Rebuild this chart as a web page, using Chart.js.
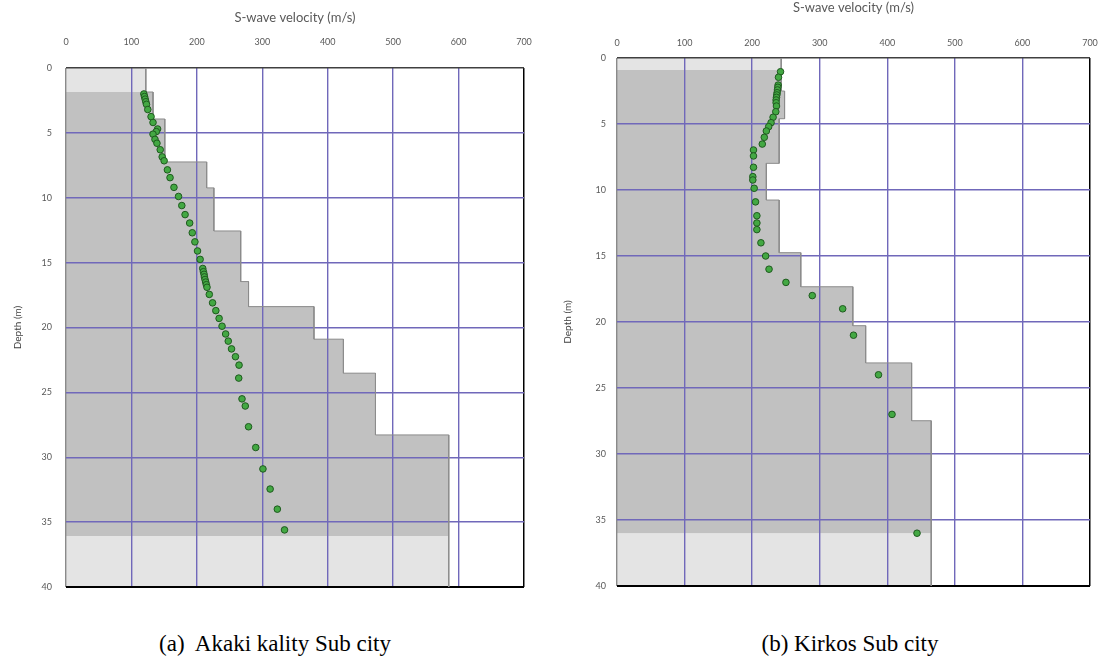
<!DOCTYPE html>
<html>
<head>
<meta charset="utf-8">
<script src="https://cdn.jsdelivr.net/npm/chart.js@4.4.1/dist/chart.umd.min.js"></script>
<style>
  body { margin: 0; background: #fff; width: 1107px; height: 667px; position: relative; overflow: hidden; }
  canvas { position: absolute; top: 0; }
  #chartA { left: 0; }
  #chartB { left: 553px; }
  .cap { position: absolute; top: 631px; font-family: "Liberation Serif", "Times New Roman", serif; font-size: 23px; white-space: pre; transform: translateX(-50%); color: #000; }
</style>
</head>
<body>
<canvas id="chartA" width="545" height="600"></canvas>
<canvas id="chartB" width="554" height="600"></canvas>
<div class="cap" style="left:275px">(a)  Akaki kality Sub city</div>
<div class="cap" style="left:850px">(b) Kirkos Sub city</div>

<script>
// Akaki kality - layered Vs model (layer top depth, velocity)
const layerTopsA = [0, 1.85, 3.93, 7.24, 9.24, 12.56, 16.46, 18.39, 20.9, 23.52, 28.28];
const layerVsA   = [122, 133, 151, 215, 226, 267, 279, 379, 424, 473, 585];
const rangeA     = [1.85, 36.06];   // depth range that was measured (dark fill)

// Akaki kality - measured points
const pointVsA = [119, 120, 121, 122, 123, 125, 130, 133, 140, 138, 133, 136, 139, 144, 147, 150, 155, 159,
                  165, 172, 177, 182, 189, 193, 197, 201, 205, 209, 210, 211, 211.5, 212.5, 213.5, 214.5, 215.5,
                  219, 224, 229, 234, 238.5, 244, 248, 253, 259, 264.5, 264, 269, 274, 279, 290, 301, 312, 323, 334];
const pointDepthA = [2.0, 2.2, 2.4, 2.6, 2.8, 3.2, 3.75, 4.2, 4.7, 4.9, 5.1, 5.5, 5.8, 6.3, 6.85, 7.15, 7.85, 8.45,
                     9.2, 9.9, 10.6, 11.3, 11.95, 12.7, 13.4, 14.1, 14.75, 15.45, 15.7, 15.9, 16.1, 16.3, 16.5, 16.7, 16.9,
                     17.45, 18.1, 18.7, 19.3, 19.9, 20.5, 21.05, 21.65, 22.25, 22.9, 23.9, 25.5, 26.05, 27.65, 29.25, 30.9, 32.45, 34.0, 35.6];

// Kirkos - layered Vs model
const layerTopsB = [0, 2.5, 4.6, 7.98, 10.76, 14.75, 17.33, 20.28, 23.1, 27.48];
const layerVsB   = [243, 248, 240, 221, 240, 272, 349, 368, 436, 465];
const rangeB     = [0.91, 36.0];

// Kirkos - measured points
const pointVsB = [242, 239, 238.5, 238, 237.5, 237, 236.5, 236, 235.5, 235.5, 236, 235, 231, 228, 224.5, 221, 218, 215,
                  202, 202, 202, 201, 201, 203, 205, 207, 207, 207, 213, 220, 225, 250, 289, 334, 350, 387, 407, 444];
const pointDepthB = [1.04, 1.46, 2.05, 2.22, 2.42, 2.63, 2.8, 2.98, 3.18, 3.39, 3.64, 4.07, 4.49, 4.9, 5.2, 5.53, 6.01, 6.52,
                     6.97, 7.42, 8.28, 8.99, 9.24, 9.87, 10.9, 11.95, 12.5, 13.0, 14.0, 15.0, 16.0, 17.0, 18.0, 19.0, 21.0, 24.0, 27.0, 36.0];

const maxDepth = 40;
const maxVs = 700;

// turn layer tops + velocities into a step outline, cut to [from, to]
function stepProfile(tops, vs, from, to) {
    const pts = [];
    for (let i = 0; i < vs.length; i++) {
        const a = Math.max(tops[i], from);
        const b = Math.min(i + 1 < tops.length ? tops[i + 1] : maxDepth, to);
        if (b <= a) continue;
        pts.push({ x: vs[i], y: a }, { x: vs[i], y: b });
    }
    return pts;
}

function drawProfile(id, p) {
    const gridBlue = 'rgb(112, 104, 186)';
    new Chart(document.getElementById(id), {
        type: 'line',
        data: {
            datasets: [
                {
                    label: 'Measured',
                    data: p.pv.map((v, i) => ({ x: v, y: p.pd[i] })),
                    showLine: false,
                    pointRadius: 3.3,
                    pointBackgroundColor: '#43a843',
                    pointBorderColor: '#1f5a1f',
                    pointBorderWidth: 1
                },
                {
                    label: 'Model (measured depth)',
                    data: stepProfile(p.tops, p.vs, p.range[0], p.range[1]),
                    borderWidth: 0,
                    pointRadius: 0,
                    fill: 'origin',
                    backgroundColor: '#c1c1c1'
                },
                {
                    label: 'Model',
                    data: stepProfile(p.tops, p.vs, 0, maxDepth),
                    borderColor: '#8c8c8c',
                    borderWidth: 1,
                    pointRadius: 0,
                    fill: 'origin',
                    backgroundColor: '#e4e4e4'
                }
            ]
        },
        options: {
            responsive: false,
            devicePixelRatio: 1,
            animation: false,
            indexAxis: 'y',
            layout: { padding: p.pad },
            plugins: {
                legend: { display: false },
                tooltip: { enabled: false },
                filler: { drawTime: 'beforeDraw' }
            },
            scales: {
                x: {
                    type: 'linear',
                    position: 'top',
                    min: 0,
                    max: maxVs,
                    ticks: { stepSize: 100, color: '#595959', font: { family: 'Lato', size: 9 }, padding: p.xTickPad },
                    grid: {
                        drawTicks: false,
                        color: c => c.tick.value === 0 ? '#8a8a8a' : c.tick.value === maxVs ? '#000' : gridBlue,
                        lineWidth: c => c.tick.value === maxVs ? 1.5 : 1.4
                    },
                    border: { display: false },
                    title: {
                        display: true,
                        text: 'S-wave velocity (m/s)',
                        color: '#595959',
                        font: { family: 'Lato', size: 13 },
                        padding: { top: p.xTitlePad, bottom: 0 }
                    },
                    afterFit: s => { s.height = p.xAxisH; s.paddingLeft = 0; s.paddingRight = 0; }
                },
                y: {
                    type: 'linear',
                    reverse: true,
                    min: 0,
                    max: maxDepth,
                    ticks: { stepSize: 5, color: '#595959', font: { family: 'Lato', size: 9 }, padding: p.yTickPad },
                    grid: {
                        drawTicks: false,
                        color: c => c.tick.value === 0 ? '#404040' : c.tick.value === maxDepth ? '#000' : gridBlue,
                        lineWidth: c => c.tick.value === maxDepth ? 2 : 1.4
                    },
                    border: { display: false },
                    title: {
                        display: true,
                        text: 'Depth (m)',
                        color: '#404040',
                        font: { family: 'Lato', size: 10 },
                        padding: { top: p.yTitlePad, bottom: 0 }
                    },
                    afterFit: s => { s.width = p.yAxisW; s.paddingTop = 0; s.paddingBottom = 0; }
                }
            }
        }
    });
}

drawProfile('chartA', {
    tops: layerTopsA, vs: layerVsA, range: rangeA, pv: pointVsA, pd: pointDepthA,
    pad: { left: 0, top: 0, right: 21, bottom: 13 },
    xAxisH: 68, yAxisW: 66, xTickPad: 21, yTickPad: 14, xTitlePad: 10, yTitlePad: 12
});

drawProfile('chartB', {
    tops: layerTopsB, vs: layerVsB, range: rangeB, pv: pointVsB, pd: pointDepthB,
    pad: { left: 0, top: 0, right: 17, bottom: 14 },
    xAxisH: 58, yAxisW: 64, xTickPad: 10, yTickPad: 11, xTitlePad: 0, yTitlePad: 9
});
</script>
</body>
</html>
